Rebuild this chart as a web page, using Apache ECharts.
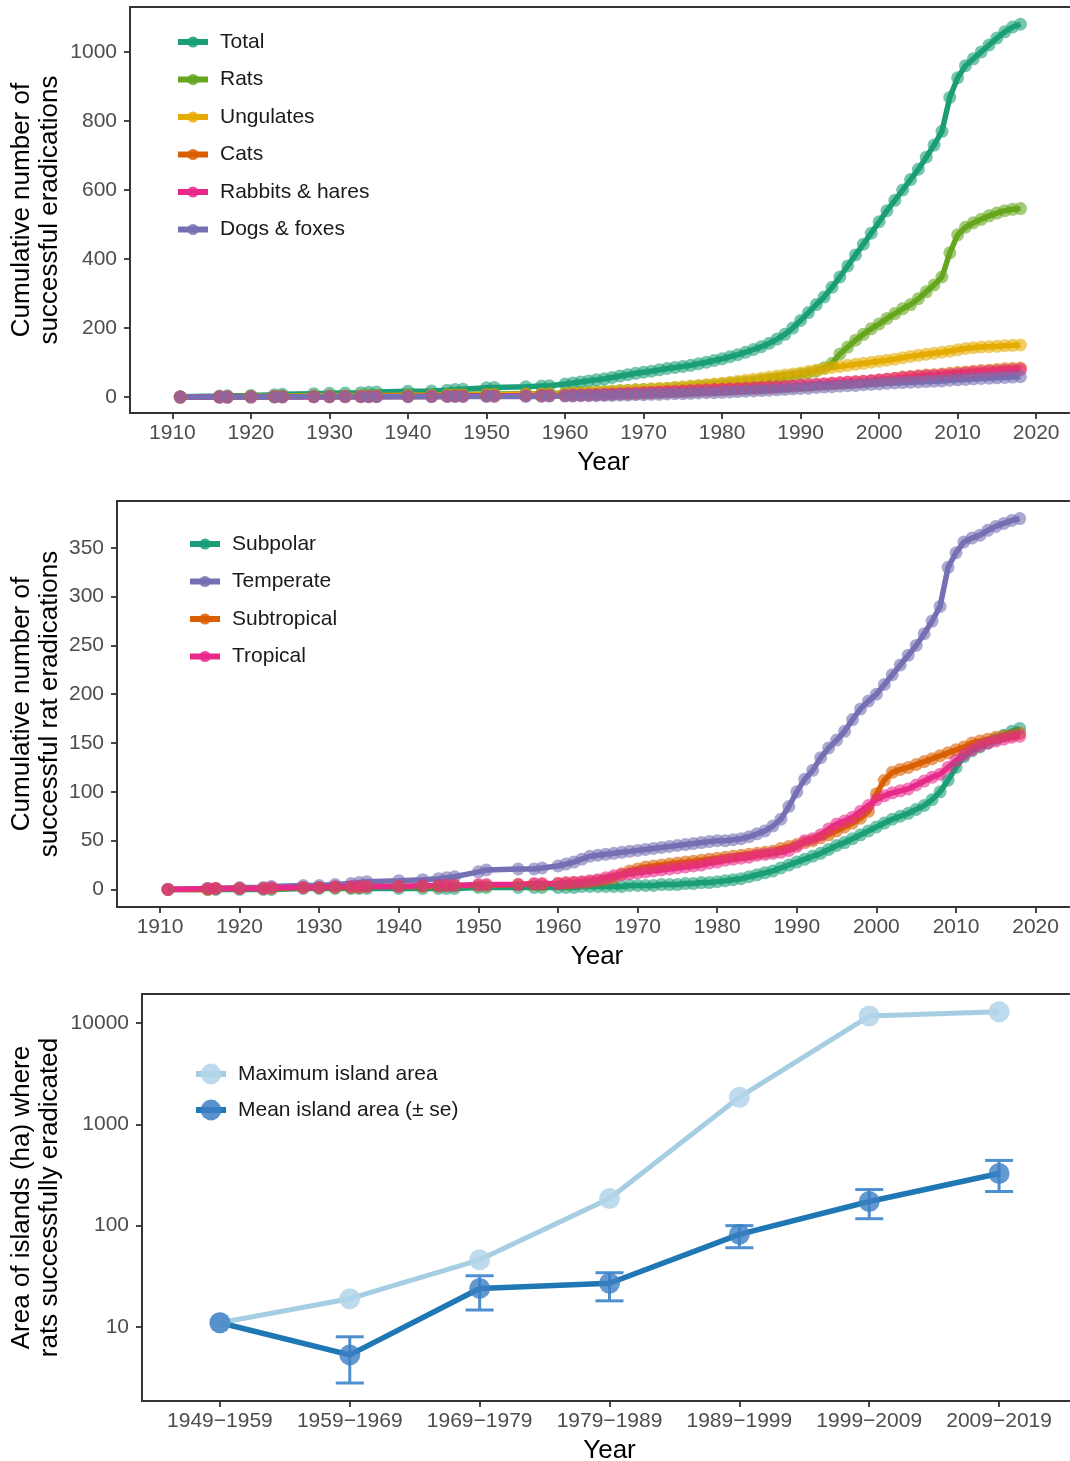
<!DOCTYPE html>
<html>
<head>
<meta charset="utf-8">
<script src="https://cdn.jsdelivr.net/npm/echarts@6/dist/echarts.min.js"></script>
<style>
html,body{margin:0;padding:0;background:#fff;}
#main{width:1070px;height:1461px;}
</style>
</head>
<body>
<div id="main"></div>
<script>
// years with at least one eradication (shared by panels 1 and 2)
var years = [1911,1916,1917,1920,1923,1924,1928,1930,1932,1934,1935,1936,1940,1943,1945,1946,1947,1950,1951,1955,1957,1958,
  1960,1961,1962,1963,1964,1965,1966,1967,1968,1969,1970,1971,1972,1973,1974,1975,1976,1977,1978,1979,
  1980,1981,1982,1983,1984,1985,1986,1987,1988,1989,1990,1991,1992,1993,1994,1995,1996,1997,1998,1999,
  2000,2001,2002,2003,2004,2005,2006,2007,2008,2009,2010,2011,2012,2013,2014,2015,2016,2017,2018];
var yearTicks = [1910,1920,1930,1940,1950,1960,1970,1980,1990,2000,2010,2020];

// panel 1 : cumulative eradications by taxon
var total = [1,3,4,5,7,8,10,11,12,13,14,15,17,18,20,22,23,27,28,30,32,33,
  38,41,44,47,50,53,57,61,65,69,72,75,79,83,86,89,92,97,101,106,
  111,117,123,130,138,146,156,168,182,200,222,245,268,290,318,348,380,412,443,475,
  508,540,570,600,630,660,695,730,770,868,925,960,980,1000,1020,1040,1058,1072,1080];
var rats = [0,1,1,2,2,3,3,4,4,5,5,5,6,6,7,7,8,9,9,10,10,11,
  12,13,14,15,16,17,18,19,20,21,22,23,24,25,27,28,30,32,34,36,
  38,40,42,44,46,49,52,55,58,62,66,70,76,85,98,125,145,165,182,198,
  212,228,242,256,268,285,305,325,348,418,470,492,505,515,525,533,540,544,546];
var ungulates = [0,1,1,2,2,2,3,3,3,4,4,4,5,5,6,6,6,7,7,8,8,9,
  10,11,12,13,14,15,16,18,19,21,22,24,25,26,28,30,32,34,36,38,
  40,43,46,49,52,55,58,61,64,67,70,74,78,82,86,89,92,95,98,101,
  104,107,110,114,118,121,124,127,130,133,137,141,143,145,146,147,149,150,151];
var cats = [0,0,0,0,1,1,1,1,1,1,1,2,2,2,2,3,3,3,3,4,4,4,
  5,5,6,6,7,7,8,9,9,10,11,12,13,14,15,16,17,18,19,20,
  21,22,23,24,25,26,27,28,30,31,33,34,36,37,39,40,42,43,45,47,
  49,52,55,58,60,62,64,65,67,69,71,73,75,77,78,80,82,83,84];
var rabbits = [0,0,0,1,1,1,1,1,2,2,2,2,2,3,3,3,3,4,4,4,5,5,
  5,6,6,7,7,8,9,10,11,12,13,14,15,16,17,18,19,20,21,22,
  23,24,25,26,27,28,29,30,31,33,35,36,38,39,41,42,44,45,46,48,
  50,52,54,56,58,60,61,62,64,65,67,69,71,72,74,75,77,78,79];
var dogs = [0,0,0,0,0,0,1,1,1,1,1,1,1,1,2,2,2,2,2,2,2,3,
  3,3,4,4,4,5,5,6,6,7,7,8,8,9,10,10,11,12,13,13,
  14,15,16,17,18,19,20,21,22,24,25,26,28,29,30,32,33,34,36,37,
  38,40,41,42,43,44,45,46,47,49,50,51,53,54,55,56,57,58,59];

// panel 2 : cumulative rat eradications by climate zone
var subpolar = [0,0,0,0,0,0,1,1,1,1,1,1,1,1,1,1,1,2,2,2,2,2,
  2,2,2,3,3,3,3,3,3,4,4,4,4,5,5,5,6,6,7,7,
  8,9,10,11,13,15,17,19,22,25,28,31,34,37,41,45,48,52,56,60,
  64,68,72,75,78,82,86,92,100,112,125,136,142,146,150,154,158,162,165];
var temperate = [0,1,1,2,2,3,4,4,5,6,7,8,9,10,11,12,13,18,20,21,21,22,
  24,26,28,31,34,35,36,37,38,39,40,41,42,43,44,45,46,47,48,49,
  50,50,51,52,54,57,60,65,72,85,100,113,122,135,145,153,162,174,185,193,
  200,210,220,230,240,250,262,275,290,330,345,356,360,363,368,372,375,378,380];
var subtropical = [0,0,1,1,1,1,2,2,2,2,2,3,3,3,3,4,4,4,4,5,5,5,
  6,6,7,7,8,9,10,12,16,19,21,23,24,25,26,27,28,29,30,31,
  32,33,34,35,36,37,38,39,42,44,46,48,50,53,56,60,64,68,73,80,
  98,112,120,123,125,128,131,134,137,140,143,146,150,152,154,156,157,158,160];
var tropical = [0,1,1,1,1,2,2,2,3,3,3,3,3,4,4,4,4,5,5,5,6,6,
  6,7,7,8,9,10,12,14,15,16,17,18,19,20,21,22,23,24,25,27,
  28,30,31,32,33,35,36,37,38,40,44,50,52,56,62,67,70,74,80,86,
  92,96,99,101,103,107,111,115,118,125,132,138,143,147,150,152,154,156,157];

// panel 3 : island area (ha) per decade
var periods = ['1949\u22121959','1959\u22121969','1969\u22121979','1979\u22121989','1989\u22121999','1999\u22122009','2009\u22122019'];
var maxArea = [11, 19, 46, 185, 1850, 11700, 12900];
var meanArea = [11, 5.3, 24, 27, 82, 173, 327];
var seLow = [null, 2.8, 14.7, 18.1, 60.5, 117, 217];
var seHigh = [null, 8.0, 32, 34.3, 100, 227, 440];

var FONT = "'Liberation Sans', Arial, Helvetica, sans-serif";
var AX = {color:'#333', width:1.8};

function pairs(arr){
  return years.map(function(y, i){ return [y, arr[i]]; });
}
function plain(v){ return String(v); }

function lineSeries(name, arr, color, idx){
  return {
    type:'line', name:name, xAxisIndex:idx, yAxisIndex:idx,
    data:pairs(arr), symbol:'circle', symbolSize:13,
    lineStyle:{width:5.5, color:color},
    itemStyle:{color:color, opacity:0.6},
    emphasis:{disabled:true}
  };
}

function yearAxis(idx){
  return {
    type:'value', gridIndex:idx, min:1904.6, max:2025.2,
    name:'Year', nameLocation:'middle', nameGap:37, nameMoveOverlap:false,
    nameTextStyle:{fontSize:26, color:'#000', fontFamily:FONT},
    axisLine:{onZero:false, lineStyle:AX},
    axisTick:{length:6, lineStyle:AX, customValues:yearTicks},
    axisLabel:{customValues:yearTicks, fontSize:21, color:'#4d4d4d', margin:10, fontFamily:FONT, formatter:plain},
    splitLine:{show:false}
  };
}

function valAxis(idx, min, max, ticks, title, gap){
  return {
    type:'value', gridIndex:idx, min:min, max:max,
    name:title, nameLocation:'middle', nameGap:gap, nameRotate:90, nameMoveOverlap:false,
    nameTextStyle:{fontSize:26, color:'#000', fontFamily:FONT, lineHeight:28},
    axisLine:{onZero:false, lineStyle:AX},
    axisTick:{length:6, lineStyle:AX, customValues:ticks},
    axisLabel:{customValues:ticks, fontSize:21, color:'#4d4d4d', margin:13, fontFamily:FONT, formatter:plain},
    splitLine:{show:false}
  };
}

function legendAt(left, top, names, symH, gap){
  return {
    orient:'vertical', left:left, top:top, padding:0,
    itemWidth:30, itemHeight:symH, itemGap:gap, data:names,
    selectedMode:false,
    itemStyle:{opacity:0.85},
    lineStyle:{width:6},
    textStyle:{fontSize:21, color:'#1a1a1a', fontFamily:FONT, lineHeight:24, padding:[0,0,0,7]}
  };
}

var gridBase = {show:true, borderColor:'#333', borderWidth:1.8, backgroundColor:'transparent',
  right:-7, containLabel:false, outerBoundsMode:'none'};

var option = {
  animation:false,
  backgroundColor:'#fff',
  textStyle:{fontFamily:FONT},
  grid:[
    Object.assign({left:130, top:7, height:406}, gridBase),
    Object.assign({left:117, top:501, height:406}, gridBase),
    Object.assign({left:142, top:994, height:407}, gridBase)
  ],
  legend:[
    legendAt(175, 30, ['Total','Rats','Ungulates','Cats','Rabbits & hares','Dogs & foxes'], 14, 13.5),
    legendAt(187, 532, ['Subpolar','Temperate','Subtropical','Tropical'], 14, 13.5),
    legendAt(193, 1062, ['Maximum island area','Mean island area (\u00b1 se)'], 26, 12)
  ],
  xAxis:[
    yearAxis(0),
    yearAxis(1),
    {
      type:'value', gridIndex:2, min:-0.6, max:6.6,
      name:'Year', nameLocation:'middle', nameGap:37, nameMoveOverlap:false,
      nameTextStyle:{fontSize:26, color:'#000', fontFamily:FONT},
      axisLine:{onZero:false, lineStyle:AX},
      axisTick:{length:6, lineStyle:AX, customValues:[0,1,2,3,4,5,6]},
      axisLabel:{customValues:[0,1,2,3,4,5,6], fontSize:21, color:'#4d4d4d', margin:10, fontFamily:FONT,
        formatter:function(v){ return periods[Math.round(v)]; }},
      splitLine:{show:false}
    }
  ],
  yAxis:[
    valAxis(0, -46, 1130, [0,200,400,600,800,1000], 'Cumulative number of\nsuccessful eradications', 66),
    valAxis(1, -18, 398, [0,50,100,150,200,250,300,350], 'Cumulative number of\nsuccessful rat eradications', 53),
    Object.assign(valAxis(2, 1.86, 19300, [10,100,1000,10000], 'Area of islands (ha) where\nrats successfully eradicated', 78), {type:'log', logBase:10})
  ],
  series:[
    lineSeries('Total', total, '#1b9e77', 0),
    lineSeries('Rats', rats, '#66a61e', 0),
    lineSeries('Ungulates', ungulates, '#e6ab02', 0),
    lineSeries('Cats', cats, '#d95f02', 0),
    lineSeries('Rabbits & hares', rabbits, '#e7298a', 0),
    lineSeries('Dogs & foxes', dogs, '#7570b3', 0),

    lineSeries('Subpolar', subpolar, '#1b9e77', 1),
    lineSeries('Temperate', temperate, '#7570b3', 1),
    lineSeries('Subtropical', subtropical, '#d95f02', 1),
    lineSeries('Tropical', tropical, '#e7298a', 1),

    {
      type:'line', name:'Maximum island area', xAxisIndex:2, yAxisIndex:2,
      data:maxArea.map(function(v, i){ return [i, v]; }),
      symbol:'circle', symbolSize:21,
      lineStyle:{width:5, color:'#a6cee3'},
      itemStyle:{color:'#b3d5ea', opacity:0.85},
      emphasis:{disabled:true}
    },
    {
      type:'line', name:'Mean island area (\u00b1 se)', xAxisIndex:2, yAxisIndex:2,
      data:meanArea.map(function(v, i){ return [i, v]; }),
      symbol:'circle', symbolSize:21,
      lineStyle:{width:5.5, color:'#1f78b4'},
      itemStyle:{color:'#3d7fc4', opacity:0.8},
      emphasis:{disabled:true}
    },
    {
      type:'custom', name:'se', xAxisIndex:2, yAxisIndex:2,
      data:seLow.map(function(v, i){ return [i, v, seHigh[i]]; }).filter(function(d){ return d[1] != null; }),
      renderItem:function(params, api){
        var lo = api.coord([api.value(0), api.value(1)]);
        var hi = api.coord([api.value(0), api.value(2)]);
        var w = 14;
        var st = {stroke:'#4f8fd0', lineWidth:3};
        return {type:'group', children:[
          {type:'line', shape:{x1:lo[0], y1:lo[1], x2:hi[0], y2:hi[1]}, style:st},
          {type:'line', shape:{x1:lo[0]-w, y1:lo[1], x2:lo[0]+w, y2:lo[1]}, style:st},
          {type:'line', shape:{x1:hi[0]-w, y1:hi[1], x2:hi[0]+w, y2:hi[1]}, style:st}
        ]};
      },
      z:3
    }
  ]
};

var chart = echarts.init(document.getElementById('main'));
chart.setOption(option);
</script>
</body>
</html>
